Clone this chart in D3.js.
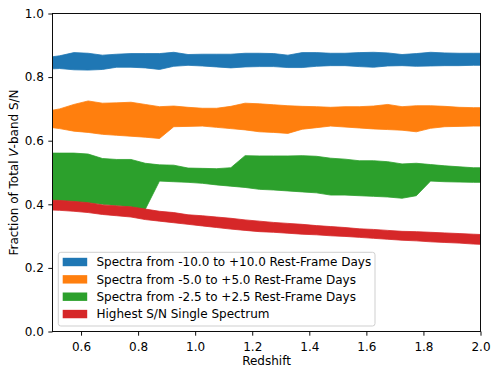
<html lang="en">
<head>
<meta charset="UTF-8">
<script src="https://d3js.org/d3.v7.min.js"></script>
<style>
body { margin: 0; background: #fff; }
svg { display: block; font-family: "DejaVu Sans", sans-serif; }
</style>
</head>
<body>
<svg id="canvas" width="498" height="377"></svg>
<script>
// data
let redshift = [0.5, 0.525, 0.575, 0.625, 0.675, 0.725, 0.775, 0.825, 0.875, 0.925, 0.975,
    1.025, 1.075, 1.125, 1.175, 1.225, 1.275, 1.325, 1.375, 1.425, 1.475,
    1.525, 1.575, 1.625, 1.675, 1.725, 1.775, 1.825, 1.875, 1.925, 1.975, 2.0];

let blueHigh = [0.864, 0.867, 0.877, 0.875, 0.869, 0.872, 0.874, 0.874, 0.874, 0.878, 0.871,
    0.872, 0.872, 0.872, 0.875, 0.875, 0.874, 0.869, 0.877, 0.877, 0.875,
    0.875, 0.877, 0.878, 0.876, 0.871, 0.874, 0.878, 0.876, 0.875, 0.875, 0.875];
let blueLow = [0.826, 0.827, 0.823, 0.822, 0.824, 0.831, 0.831, 0.829, 0.824, 0.834, 0.837,
    0.835, 0.832, 0.829, 0.832, 0.833, 0.833, 0.830, 0.830, 0.834, 0.836,
    0.836, 0.833, 0.831, 0.835, 0.836, 0.834, 0.835, 0.836, 0.836, 0.837, 0.837];

let orangeHigh = [0.696, 0.700, 0.714, 0.725, 0.718, 0.719, 0.721, 0.714, 0.707, 0.709, 0.705,
    0.702, 0.702, 0.708, 0.718, 0.716, 0.713, 0.710, 0.708, 0.707, 0.705,
    0.707, 0.707, 0.709, 0.714, 0.707, 0.710, 0.710, 0.708, 0.705, 0.704, 0.704];
let orangeLow = [0.641, 0.638, 0.630, 0.626, 0.620, 0.617, 0.614, 0.611, 0.607, 0.644, 0.645,
    0.646, 0.642, 0.638, 0.634, 0.628, 0.626, 0.623, 0.636, 0.641, 0.646,
    0.643, 0.640, 0.637, 0.635, 0.633, 0.628, 0.639, 0.644, 0.645, 0.646, 0.646];

let greenHigh = [0.561, 0.561, 0.561, 0.558, 0.544, 0.541, 0.541, 0.529, 0.524, 0.523, 0.514,
    0.513, 0.512, 0.515, 0.553, 0.552, 0.552, 0.552, 0.553, 0.551, 0.545,
    0.542, 0.537, 0.537, 0.534, 0.527, 0.529, 0.525, 0.521, 0.518, 0.515, 0.515];
let greenLow = [0.413, 0.412, 0.409, 0.405, 0.400, 0.396, 0.392, 0.384, 0.473, 0.471, 0.469,
    0.466, 0.461, 0.457, 0.453, 0.447, 0.445, 0.442, 0.439, 0.436, 0.429,
    0.429, 0.427, 0.425, 0.423, 0.419, 0.427, 0.473, 0.471, 0.470, 0.469, 0.469];

let redHigh = [0.413, 0.412, 0.409, 0.405, 0.398, 0.395, 0.392, 0.385, 0.378, 0.374, 0.367,
    0.364, 0.360, 0.356, 0.351, 0.347, 0.343, 0.340, 0.337, 0.333, 0.330,
    0.327, 0.323, 0.321, 0.318, 0.315, 0.314, 0.312, 0.310, 0.308, 0.306, 0.305];
let redLow = [0.382, 0.381, 0.378, 0.374, 0.368, 0.364, 0.360, 0.352, 0.347, 0.342, 0.337,
    0.332, 0.327, 0.322, 0.318, 0.314, 0.312, 0.309, 0.306, 0.304, 0.301,
    0.299, 0.296, 0.293, 0.290, 0.287, 0.285, 0.282, 0.280, 0.278, 0.275, 0.274];

let labels = ['Spectra from -10.0 to +10.0 Rest-Frame Days',
    'Spectra from -5.0 to +5.0 Rest-Frame Days',
    'Spectra from -2.5 to +2.5 Rest-Frame Days',
    'Highest S/N Single Spectrum'];
let colors = ['#1f77b4', '#ff7f0e', '#2ca02c', '#d62728'];
let xTicks = [0.6, 0.8, 1.0, 1.2, 1.4, 1.6, 1.8, 2.0];
let yTicks = [0.0, 0.2, 0.4, 0.6, 0.8, 1.0];

let bands = [[blueLow, blueHigh], [orangeLow, orangeHigh], [greenLow, greenHigh], [redLow, redHigh]];

let svg = d3.select('#canvas');
let axL = 52.5, axR = 480.5, axT = 13.5, axB = 331.5;
let fs = 12;

let x = d3.scaleLinear().domain([0.5, 2.0]).range([axL, axR]);
let y = d3.scaleLinear().domain([0, 1]).range([axB, axT]);

bands.forEach((b, k) => {
    let area = d3.area()
        .x((d, i) => x(redshift[i]))
        .y0((d, i) => y(b[0][i]))
        .y1((d, i) => y(b[1][i]));
    svg.append('path')
        .attr('d', area(redshift))
        .attr('fill', colors[k])
        .attr('stroke', colors[k])
        .attr('stroke-width', 0.8);
});

// clip bands at the axes edges
svg.append('rect').attr('x', 0).attr('y', 0).attr('width', axL).attr('height', 377).attr('fill', '#fff');
svg.append('rect').attr('x', axR).attr('y', 0).attr('width', 498 - axR).attr('height', 377).attr('fill', '#fff');

let xAxis = svg.append('g')
    .attr('transform', 'translate(0,' + axB + ')')
    .call(d3.axisBottom(x).tickValues(xTicks).tickFormat(d3.format('.1f')).tickSize(4.2).tickPadding(6.5).tickSizeOuter(0));
let yAxis = svg.append('g')
    .attr('transform', 'translate(' + axL + ',0)')
    .call(d3.axisLeft(y).tickValues(yTicks).tickFormat(d3.format('.1f')).tickSize(4.2).tickPadding(4.5).tickSizeOuter(0));

[xAxis, yAxis].forEach(a => {
    a.select('.domain').remove();
    a.selectAll('text').attr('font-size', fs).attr('fill', '#000').attr('font-family', 'DejaVu Sans');
    a.selectAll('line').attr('stroke', '#000').attr('stroke-width', 0.95);
});

svg.append('rect')
    .attr('x', axL).attr('y', axT)
    .attr('width', axR - axL).attr('height', axB - axT)
    .attr('fill', 'none').attr('stroke', '#000').attr('stroke-width', 0.95);

svg.append('text')
    .attr('x', (axL + axR) / 2).attr('y', 365)
    .attr('text-anchor', 'middle').attr('font-size', fs)
    .text('Redshift');

let yl = svg.append('text')
    .attr('transform', 'translate(17.5,' + (axT + axB) / 2 + ') rotate(-90)')
    .attr('text-anchor', 'middle').attr('font-size', fs);
yl.append('tspan').text('Fraction of Total ');
yl.append('tspan').attr('font-style', 'italic').text('V');
yl.append('tspan').text('-band S/N');

// legend
let legend = svg.append('g');
legend.append('rect')
    .attr('x', 58.3).attr('y', 252.3).attr('width', 316.7).attr('height', 73.7)
    .attr('rx', 2.5)
    .attr('fill', '#fff').attr('fill-opacity', 0.8)
    .attr('stroke', '#cccccc').attr('stroke-width', 0.95);

labels.forEach((t, k) => {
    let cy = 262 + k * 17.35;
    legend.append('rect')
        .attr('x', 62.7).attr('y', cy - 4.2).attr('width', 24.5).attr('height', 8.4)
        .attr('fill', colors[k]);
    legend.append('text')
        .attr('x', 96.5).attr('y', cy + 4.3)
        .attr('font-size', fs)
        .text(t);
});
</script>
</body>
</html>
